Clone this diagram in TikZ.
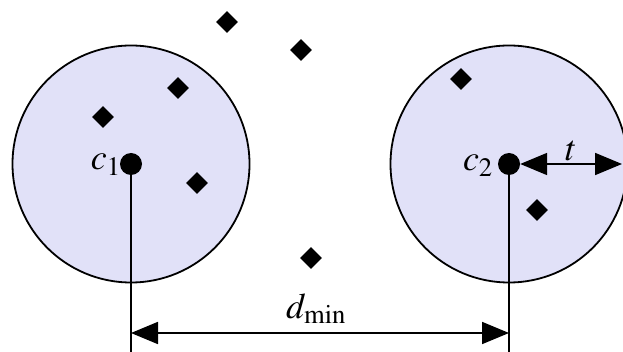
\documentclass[tikz,border=0pt]{standalone}
\usepackage{mathptmx}
\usetikzlibrary{arrows.meta,shapes.geometric}
\definecolor{clusterfill}{RGB}{225,225,248}
\begin{document}
\begin{tikzpicture}[x=1pt,y=-1pt,
  cluster/.style={circle,draw=black,line width=1.8pt,fill=clusterfill,minimum size=237pt,inner sep=0pt},
  centre/.style={circle,fill=black,minimum size=22pt,inner sep=0pt},
  point/.style={diamond,fill=black,minimum size=22pt,inner sep=0pt},
  lbl/.style={inner sep=0pt,font=\fontsize{36}{42}\selectfont},
  dimline/.style={line width=1.8pt,{Triangle[length=27pt,width=22pt]}-{Triangle[length=27pt,width=22pt]}},
  stem/.style={line width=1.8pt}]
\useasboundingbox (0,0) rectangle (623,352);
\node[cluster] (C1) at (131,164) {};
\node[cluster] (C2) at (509,164) {};
\node[centre] (c1) at (131,164) {};
\node[centre] (c2) at (509,164) {};
\node[lbl,anchor=base east] (l1) at (121,170) {$c_1$};
\node[lbl,anchor=base east] (l2) at (493,171) {$c_2$};
\foreach \n/\x/\y in {p1/227/22,p2/301/50,p3/178/88,p4/103/117,p5/197/183,p6/311/258,p7/461/79,p8/537/210}
  \node[point] (\n) at (\x,\y) {};
\coordinate (b1) at (131,352);
\coordinate (b2) at (509,352);
\coordinate (a1) at (131,333);
\coordinate (a2) at (509,333);
\draw[stem] (c1.center) -- (b1);
\draw[stem] (c2.center) -- (b2);
\draw[dimline] (a1) -- (a2);
\node[lbl,anchor=base] (dm) at (316,318) {$d_{\min}$};
\coordinate (tr) at (622,164);
\draw[dimline] (c2.east) -- (tr);
\node[lbl,anchor=base] (tl) at (571,161) {$t$};
\end{tikzpicture}
\end{document}
